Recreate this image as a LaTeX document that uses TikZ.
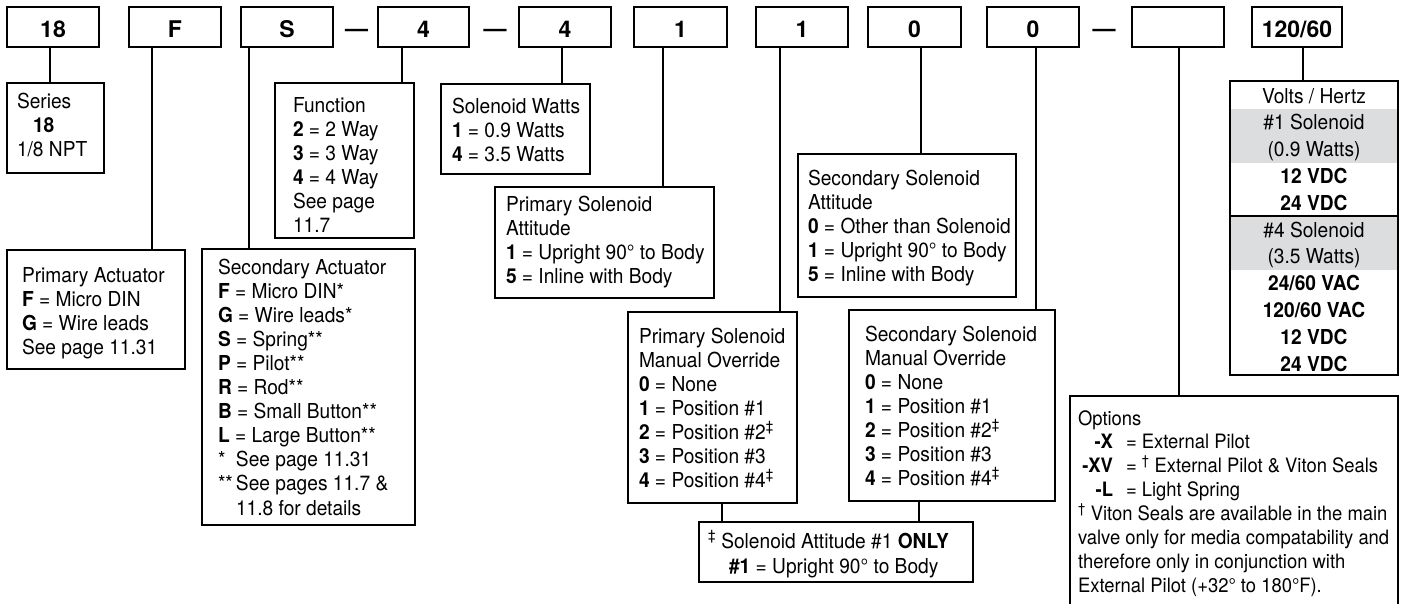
\documentclass[tikz,border=0pt]{standalone}
\usepackage{fontspec}
\setmainfont{TeX Gyre Heros}[FakeStretch=0.93]
\newfontfamily\topfont{TeX Gyre Heros}
\definecolor{vgray}{RGB}{220,221,222}
\newcommand\bxs{20.6}
\newcommand\bxt[6]{\begin{minipage}[t][#2pt][t]{#1pt}\vspace*{\dimexpr#3pt-18pt\relax}\fontsize{\bxs}{#5}\selectfont\lineskiplimit=-\maxdimen\raggedright\leftskip=#4pt\rightskip=-300pt plus 1fil\relax\rule{0pt}{18pt}#6\end{minipage}}
\newcommand\bxc[5]{\begin{minipage}[t][#2pt][t]{#1pt}\vspace*{\dimexpr#3pt-18pt\relax}\fontsize{\bxs}{#4}\selectfont\lineskiplimit=-\maxdimen\centering\rule{0pt}{18pt}#5\end{minipage}}
\tikzset{
  tbox/.style={draw, line width=1.3pt, inner sep=0pt, outer sep=0pt, anchor=north west},
  topbox/.style={tbox, minimum height=40pt, font=\topfont\fontsize{23}{27}\selectfont\bfseries, text height=20.5pt, text depth=0pt},
  dashnode/.style={inner sep=0pt, anchor=base, font=\topfont\fontsize{23}{27}\selectfont\bfseries},
  conn/.style={line width=1.3pt}
}
\begin{document}
\begin{tikzpicture}[x=1pt,y=-1pt]
\useasboundingbox (0,0) rectangle (1405,603);
\clip (0,0) rectangle (1405,603);
% top row
\node[topbox, minimum width=92pt] (b18) at (7,7) {18};
\node[topbox, minimum width=92pt] (bF) at (129,7) {F};
\node[topbox, minimum width=92pt] (bS) at (241,7) {S};
\node[dashnode] (d1) at (356.5,36.5) {—};
\node[topbox, minimum width=91pt] (b4a) at (378,7) {4};
\node[dashnode] (d2) at (495,36.5) {—};
\node[topbox, minimum width=92pt] (b4b) at (519,7) {4};
\node[topbox, minimum width=93pt] (b1a) at (634,7) {1};
\node[topbox, minimum width=92pt] (b1b) at (756,7) {1};
\node[topbox, minimum width=93pt] (b0a) at (868,7) {0};
\node[topbox, minimum width=92pt] (b0b) at (987,7) {0};
\node[dashnode] (d3) at (1104,36.5) {—};
\node[topbox, minimum width=92pt] (bE) at (1132,7) {};
\node[topbox, minimum width=90pt] (b120) at (1252,7) {120/60};
% description boxes
\node[tbox] (ser) at (7,83) {\bxt{97}{90}{25}{10}{24}{Series\\\hspace*{16pt}\textbf{18}\\1/8 NPT}};
\node[tbox] (pact) at (7,250) {\bxt{178}{119}{32}{15}{24}{Primary Actuator\\\textbf{F} = Micro DIN\\\textbf{G} = Wire leads\\See page 11.31}};
\node[tbox] (sact) at (202,249) {\bxt{213}{276}{25}{16}{24.1}{Secondary Actuator\\\textbf{F} = Micro DIN*\\\textbf{G} = Wire leads*\\\textbf{S} = Spring**\\\textbf{P} = Pilot**\\\textbf{R} = Rod**\\\textbf{B} = Small Button**\\\textbf{L} = Large Button**\\\makebox[18pt][l]{*}See page 11.31\\\makebox[18pt][l]{**}See pages 11.7 \&\\\hspace*{18pt}11.8 for details}};
\node[tbox] (func) at (275,83) {\bxt{139}{155}{29}{18}{24}{Function\\\textbf{2} = 2 Way\\\textbf{3} = 3 Way\\\textbf{4} = 4 Way\\See page\\11.7}};
\node[tbox] (watts) at (441,84) {\bxt{149}{90}{29}{11}{24}{Solenoid Watts\\\textbf{1} = 0.9 Watts\\\textbf{4} = 3.5 Watts}};
\node[tbox] (psa) at (495,187) {\bxt{219}{111}{24}{11}{24}{Primary Solenoid\\Attitude\\\textbf{1} = Upright 90° to Body\\\textbf{5} = Inline with Body}};
\node[tbox] (pmo) at (628,312) {\bxt{169}{191}{31}{11}{24}{Primary Solenoid\\Manual Override\\\textbf{0} = None\\\textbf{1} = Position \#1\\\textbf{2} = Position \#2\textsuperscript{‡}\\\textbf{3} = Position \#3\\\textbf{4} = Position \#4\textsuperscript{‡}}};
\node[tbox] (ssa) at (798,154) {\bxt{218}{143}{31}{10}{24}{Secondary Solenoid\\Attitude\\\textbf{0} = Other than Solenoid\\\textbf{1} = Upright 90° to Body\\\textbf{5} = Inline with Body}};
\node[tbox] (smo) at (849,310) {\bxt{206}{191}{31}{16}{24}{Secondary Solenoid\\Manual Override\\\textbf{0} = None\\\textbf{1} = Position \#1\\\textbf{2} = Position \#2\textsuperscript{‡}\\\textbf{3} = Position \#3\\\textbf{4} = Position \#4\textsuperscript{‡}}};
\node[tbox] (foot) at (699,522) {\bxt{274}{60}{26}{9}{25}{\textsuperscript{‡} Solenoid Attitude \#1 \textbf{ONLY}\\\hspace*{21pt}\textbf{\#1} = Upright 90° to Body}};
\node[tbox] (opt) at (1070,396) {\renewcommand\bxs{19.8}\bxt{328}{260}{29}{8}{23.9}{Options\\\makebox[35pt][r]{\textbf{-X}}\hspace{13pt}= External Pilot\\\makebox[35pt][r]{\textbf{-XV}}\hspace{13pt}= \textsuperscript{†} External Pilot \& Viton Seals\\\makebox[35pt][r]{\textbf{-L}}\hspace{13pt}= Light Spring\\\textsuperscript{†} Viton Seals are available in the main\\valve only for media compatability and\\therefore only in conjunction with\\External Pilot (+32° to 180°F).}};
% volts box
\fill[vgray] (1230,109) rectangle (1398,163);
\fill[vgray] (1230,216) rectangle (1398,270);
\draw[conn] (1230,216) -- (1398,216);
\node[tbox] (volts) at (1230,81) {\bxc{168}{294}{22}{26.8}{Volts / Hertz\\\#1 Solenoid\\(0.9 Watts)\\\textbf{12 VDC}\\\textbf{24 VDC}\\\#4 Solenoid\\(3.5 Watts)\\\textbf{24/60 VAC}\\\textbf{120/60 VAC}\\\textbf{12 VDC}\\\textbf{24 VDC}}};
% connector x positions
\coordinate (x18) at (50,0);
\coordinate (xF) at (152,0);
\coordinate (xS) at (249,0);
\coordinate (x4a) at (402,0);
\coordinate (x4b) at (562,0);
\coordinate (x1a) at (663,0);
\coordinate (x1b) at (780,0);
\coordinate (x0a) at (921,0);
\coordinate (x0b) at (1036,0);
\coordinate (xE) at (1179,0);
\coordinate (x120) at (1303,0);
\coordinate (xpf) at (722,0);
\coordinate (xsf) at (919,0);
% connectors
\draw[conn] (b18.south -| x18) -- (ser.north -| x18);
\draw[conn] (bF.south -| xF) -- (pact.north -| xF);
\draw[conn] (bS.south -| xS) -- (sact.north -| xS);
\draw[conn] (b4a.south -| x4a) -- (func.north -| x4a);
\draw[conn] (b4b.south -| x4b) -- (watts.north -| x4b);
\draw[conn] (b1a.south -| x1a) -- (psa.north -| x1a);
\draw[conn] (b1b.south -| x1b) -- (pmo.north -| x1b);
\draw[conn] (b0a.south -| x0a) -- (ssa.north -| x0a);
\draw[conn] (b0b.south -| x0b) -- (smo.north -| x0b);
\draw[conn] (bE.south -| xE) -- (opt.north -| xE);
\draw[conn] (b120.south -| x120) -- (volts.north -| x120);
\draw[conn] (pmo.south -| xpf) -- (foot.north -| xpf);
\draw[conn] (smo.south -| xsf) -- (foot.north -| xsf);
\end{tikzpicture}
\end{document}
